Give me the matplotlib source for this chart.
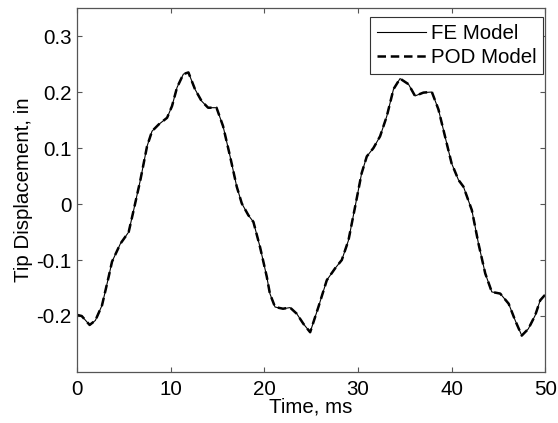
import matplotlib
matplotlib.use("Agg")
import matplotlib.pyplot as plt

# time (ms) and tip displacement (in)
time_ms = [0, 0.5, 1.35, 1.96, 2.67, 3.38, 3.74, 4.63, 5.52, 6.05, 6.77, 7.48,
           8.01, 8.72, 9.62, 10.15, 10.68, 11.36, 11.9, 12.6, 13.3, 14.0, 14.9,
           15.6, 16.35, 17.06, 17.6, 18.3, 18.84, 19.55, 20.27, 20.6, 21.15,
           22.0, 22.76, 23.47, 24.18, 24.9, 25.78, 26.68, 27.56, 28.28, 28.99,
           29.7, 30.4, 30.95, 31.66, 32.37, 33.09, 33.8, 34.5, 35.4, 36.1, 37.0,
           37.9, 38.6, 39.3, 40.0, 40.74, 41.27, 42.17, 42.88, 43.6, 44.3, 45.2,
           46.1, 46.8, 47.5, 48.2, 48.93, 49.47, 50.0]

fe_disp = [-0.198, -0.2, -0.216, -0.208, -0.181, -0.13, -0.103, -0.071, -0.05,
           -0.011, 0.043, 0.103, 0.13, 0.142, 0.154, 0.175, 0.208, 0.232, 0.235,
           0.205, 0.184, 0.172, 0.172, 0.139, 0.085, 0.031, 0.001, -0.02, -0.032,
           -0.077, -0.13, -0.16, -0.184, -0.187, -0.185, -0.196, -0.214, -0.229,
           -0.184, -0.136, -0.115, -0.1, -0.065, -0.005, 0.055, 0.085, 0.1,
           0.121, 0.157, 0.205, 0.224, 0.214, 0.193, 0.199, 0.2, 0.169, 0.121,
           0.073, 0.043, 0.031, -0.011, -0.071, -0.124, -0.157, -0.16, -0.178,
           -0.208, -0.235, -0.223, -0.199, -0.172, -0.162]

# the POD curve sits on top of the FE curve everywhere
pod_disp = list(fe_disp)

x_ticks = [0, 10, 20, 30, 40, 50]
y_ticks = [-0.2, -0.1, 0, 0.1, 0.2, 0.3]
y_labels = ['-0.2', '-0.1', '0', '0.1', '0.2', '0.3']

plt.rcParams['font.family'] = ['Liberation Sans', 'DejaVu Sans']
plt.rcParams['font.size'] = 14.8

fig = plt.figure(figsize=(5.58, 4.23), dpi=100)
ax = fig.add_axes([0.138, 0.1206, 0.839, 0.8604])

ax.plot(time_ms, fe_disp, color='black', lw=0.8, label='FE Model')
ax.plot(time_ms, pod_disp, color='black', lw=1.8, ls='--', dashes=(3.4, 1.9),
        label='POD Model')

ax.set_xlim(0, 50)
ax.set_ylim(-0.3, 0.35)
ax.set_xticks(x_ticks)
ax.set_yticks(y_ticks)
ax.set_yticklabels(y_labels)
ax.tick_params(direction='in', length=3.5, top=True, right=True,
               color='#555555', labelsize=14.8)
ax.tick_params(axis='x', pad=5.5)
ax.tick_params(axis='y', pad=4)
for s in ax.spines.values():
    s.set_color('#555555')
    s.set_linewidth(0.9)

ax.set_xlabel('Time, ms', labelpad=-1)
ax.set_ylabel('Tip Displacement, in', labelpad=2)

leg = ax.legend(loc='upper right', bbox_to_anchor=(0.9964, 0.976),
                handlelength=2.35, handletextpad=0.25, fancybox=False,
                borderaxespad=0, borderpad=0.35, labelspacing=0.25,
                fontsize=14.8)
leg.get_frame().set_edgecolor('#333333')
leg.get_frame().set_linewidth(0.8)
leg.get_frame().set_alpha(1)

fig.savefig('out.png', dpi=100)
